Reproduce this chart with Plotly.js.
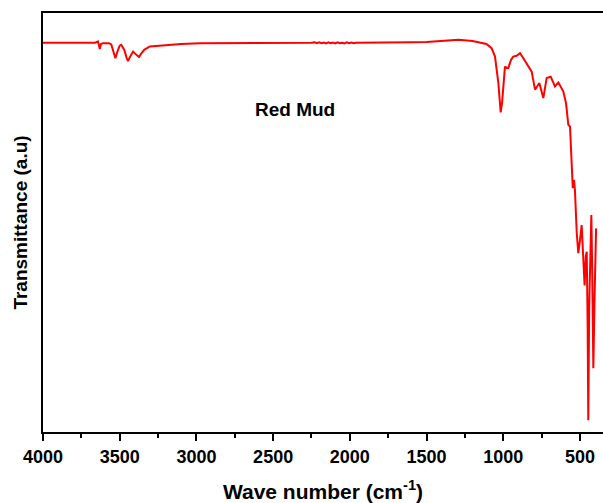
<!DOCTYPE html>
<html>
<head>
<meta charset="utf-8">
<script src="https://cdn.plot.ly/plotly-3.0.1.min.js"></script>
<style>
  html, body { margin: 0; padding: 0; background: #ffffff; }
  #chart { width: 603px; height: 503px; }
</style>
</head>
<body>
<div id="chart"></div>
<script>
// FTIR spectrum of red mud: wavenumber (cm-1) vs. transmittance (arbitrary units)
const wavenumber = [
  4000, 3900, 3800, 3700, 3660, 3648, 3642, 3636, 3630, 3622, 3610, 3590, 3570, 3555,
  3542, 3528, 3515, 3500, 3490, 3470, 3455, 3446, 3435, 3420, 3413, 3400, 3385, 3374,
  3360, 3340, 3304, 3250, 3195, 3100, 2978, 2800, 2600, 2400, 2250, 2230, 2215, 2200,
  2185, 2170, 2155, 2140, 2125, 2110, 2095, 2080, 2065, 2050, 2035, 2020, 2005, 1990,
  1975, 1960, 1900, 1800,
  1700, 1600, 1500, 1400, 1293, 1200, 1151, 1110, 1076, 1054, 1032, 1017, 1008, 1000,
  989, 978, 967, 950, 935, 913, 891, 869, 837, 815, 793, 765, 739, 717, 691, 663, 641,
  609, 591, 576, 565, 554, 547, 539, 533, 521, 511, 500, 489, 478, 470, 462, 456, 450,
  446, 440, 432, 426, 420, 413, 405, 398, 395
];
const transmittance = [
  92.9, 92.9, 92.9, 92.9, 92.9, 93.1, 93.2, 92.4, 91.4, 92.6, 92.8, 92.8, 92.8, 92.5,
  91.0, 89.2, 90.8, 92.2, 92.4, 91.2, 89.3, 88.5, 89.4, 90.6, 90.8, 90.3, 89.7, 89.5,
  90.3, 91.2, 92.0, 92.2, 92.4, 92.6, 92.8, 92.8, 92.9, 92.9, 92.9, 93.0, 92.8, 93.0,
  92.8, 92.95, 92.75, 93.0, 92.8, 92.95, 92.75, 93.0, 92.8, 92.9, 92.75, 93.0, 92.8, 92.95,
  92.8, 92.9, 92.9, 92.9,
  92.9, 93.0, 93.1, 93.3, 93.6, 93.3, 93.0, 92.6, 91.6, 89.6, 83.3, 76.3, 78.5, 82.5,
  87.2, 86.9, 86.9, 88.8, 89.6, 89.8, 90.4, 89.2, 87.2, 86.0, 81.7, 83.3, 79.7, 84.5, 84.8, 82.5, 83.4,
  81.3, 78.5, 73.3, 72.9, 60.9, 58.2, 60.2, 57.8, 47.5, 42.7, 45.8, 49.4, 41.0, 35.0, 42.0, 43.0, 25.0,
  2.8, 30.0, 49.0, 51.8, 38.0, 15.2, 32.0, 47.0, 48.6
];
const xTickValues = [4000, 3500, 3000, 2500, 2000, 1500, 1000, 500];
const xTickLabels = ['4000', '3500', '3000', '2500', '2000', '1500', '1000', '500'];
const sampleName = 'Red Mud';

const FONT = 'Liberation Sans, Arial, Helvetica, sans-serif';

const trace = {
  x: wavenumber,
  y: transmittance,
  type: 'scatter',
  mode: 'lines',
  line: { color: '#ff0000', width: 2 },
  hoverinfo: 'skip'
};

const layout = {
  width: 603,
  height: 503,
  margin: { l: 43, r: 0, t: 13, b: 71 },
  paper_bgcolor: '#ffffff',
  plot_bgcolor: '#ffffff',
  showlegend: false,
  xaxis: {
    range: [4000, 350],
    tickvals: xTickValues,
    ticktext: xTickLabels,
    ticks: 'outside',
    ticklen: 7,
    tickwidth: 2,
    tickcolor: '#000000',
    minor: { dtick: 250, ticks: 'outside', ticklen: 4, tickwidth: 2, tickcolor: '#000000' },
    showline: true,
    linewidth: 2,
    linecolor: '#000000',
    mirror: true,
    showgrid: false,
    zeroline: false,
    tickfont: { family: FONT, size: 18, color: '#000000', weight: 'bold' },
    title: {
      text: 'Wave number (cm<sup>-1</sup>)',
      font: { family: FONT, size: 21, color: '#000000', weight: 'bold' },
      standoff: 20
    }
  },
  yaxis: {
    range: [0, 100],
    showticklabels: false,
    ticks: '',
    showline: true,
    linewidth: 2,
    linecolor: '#000000',
    showgrid: false,
    zeroline: false,
    title: {
      text: 'Transmittance (a.u)',
      font: { family: FONT, size: 19, color: '#000000', weight: 'bold' },
      standoff: 8
    }
  },
  annotations: [{
    text: sampleName,
    xref: 'paper',
    yref: 'paper',
    x: 0.45,
    y: 0.769,
    xanchor: 'center',
    yanchor: 'middle',
    showarrow: false,
    font: { family: FONT, size: 19, color: '#000000', weight: 'bold' }
  }]
};

Plotly.newPlot('chart', [trace], layout, { displayModeBar: false, staticPlot: true });
</script>
</body>
</html>
